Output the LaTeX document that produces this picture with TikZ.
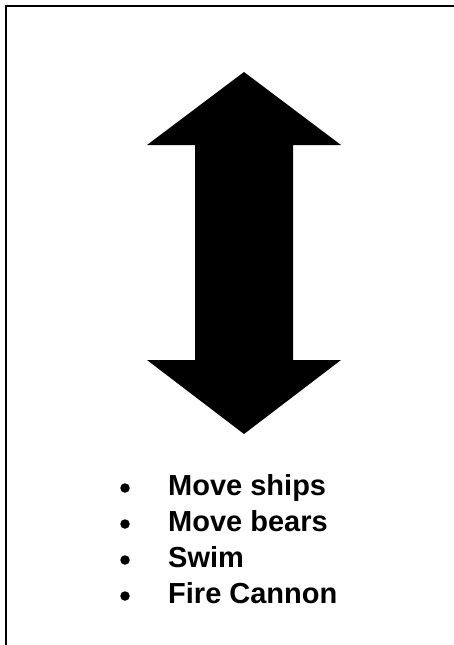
\documentclass[tikz,border=0pt]{standalone}
\usepackage{fontspec}
\setmainfont{Liberation Sans}
\usepackage{tikz}
\usetikzlibrary{positioning}

\tikzset{
    itembullet/.style={circle, fill=black, minimum size=9.5pt, inner sep=0pt},
    itemtext/.style={font=\fontsize{29}{34}\selectfont\bfseries, anchor=base west, inner sep=0pt}
}

\begin{document}
\begin{tikzpicture}[x=1pt, y=-1pt]

\useasboundingbox (0,0) rectangle (454,645);

% ---- Frame (clipped at right and bottom) ----
\draw[black, line width=2pt] (6,645) -- (6,6) -- (454,6);

% ---- Double arrow ----
\fill[black] (244,72) -- (341,145) -- (293,145) -- (293,360) -- (341,360)
    -- (244,434) -- (147,360) -- (195,360) -- (195,145) -- (147,145) -- cycle;

% ---- Bullet list ----
\node[itemtext] (t1) at (168,495) {Move ships};
\node[itembullet] (b1) at (125,488) {};

\node[itemtext] (t2) at (168,531) {Move bears};
\node[itembullet] (b2) at (125,524) {};

\node[itemtext] (t3) at (168,567) {Swim};
\node[itembullet] (b3) at (125,560) {};

\node[itemtext] (t4) at (168,603) {Fire Cannon};
\node[itembullet] (b4) at (125,596) {};

\end{tikzpicture}
\end{document}
